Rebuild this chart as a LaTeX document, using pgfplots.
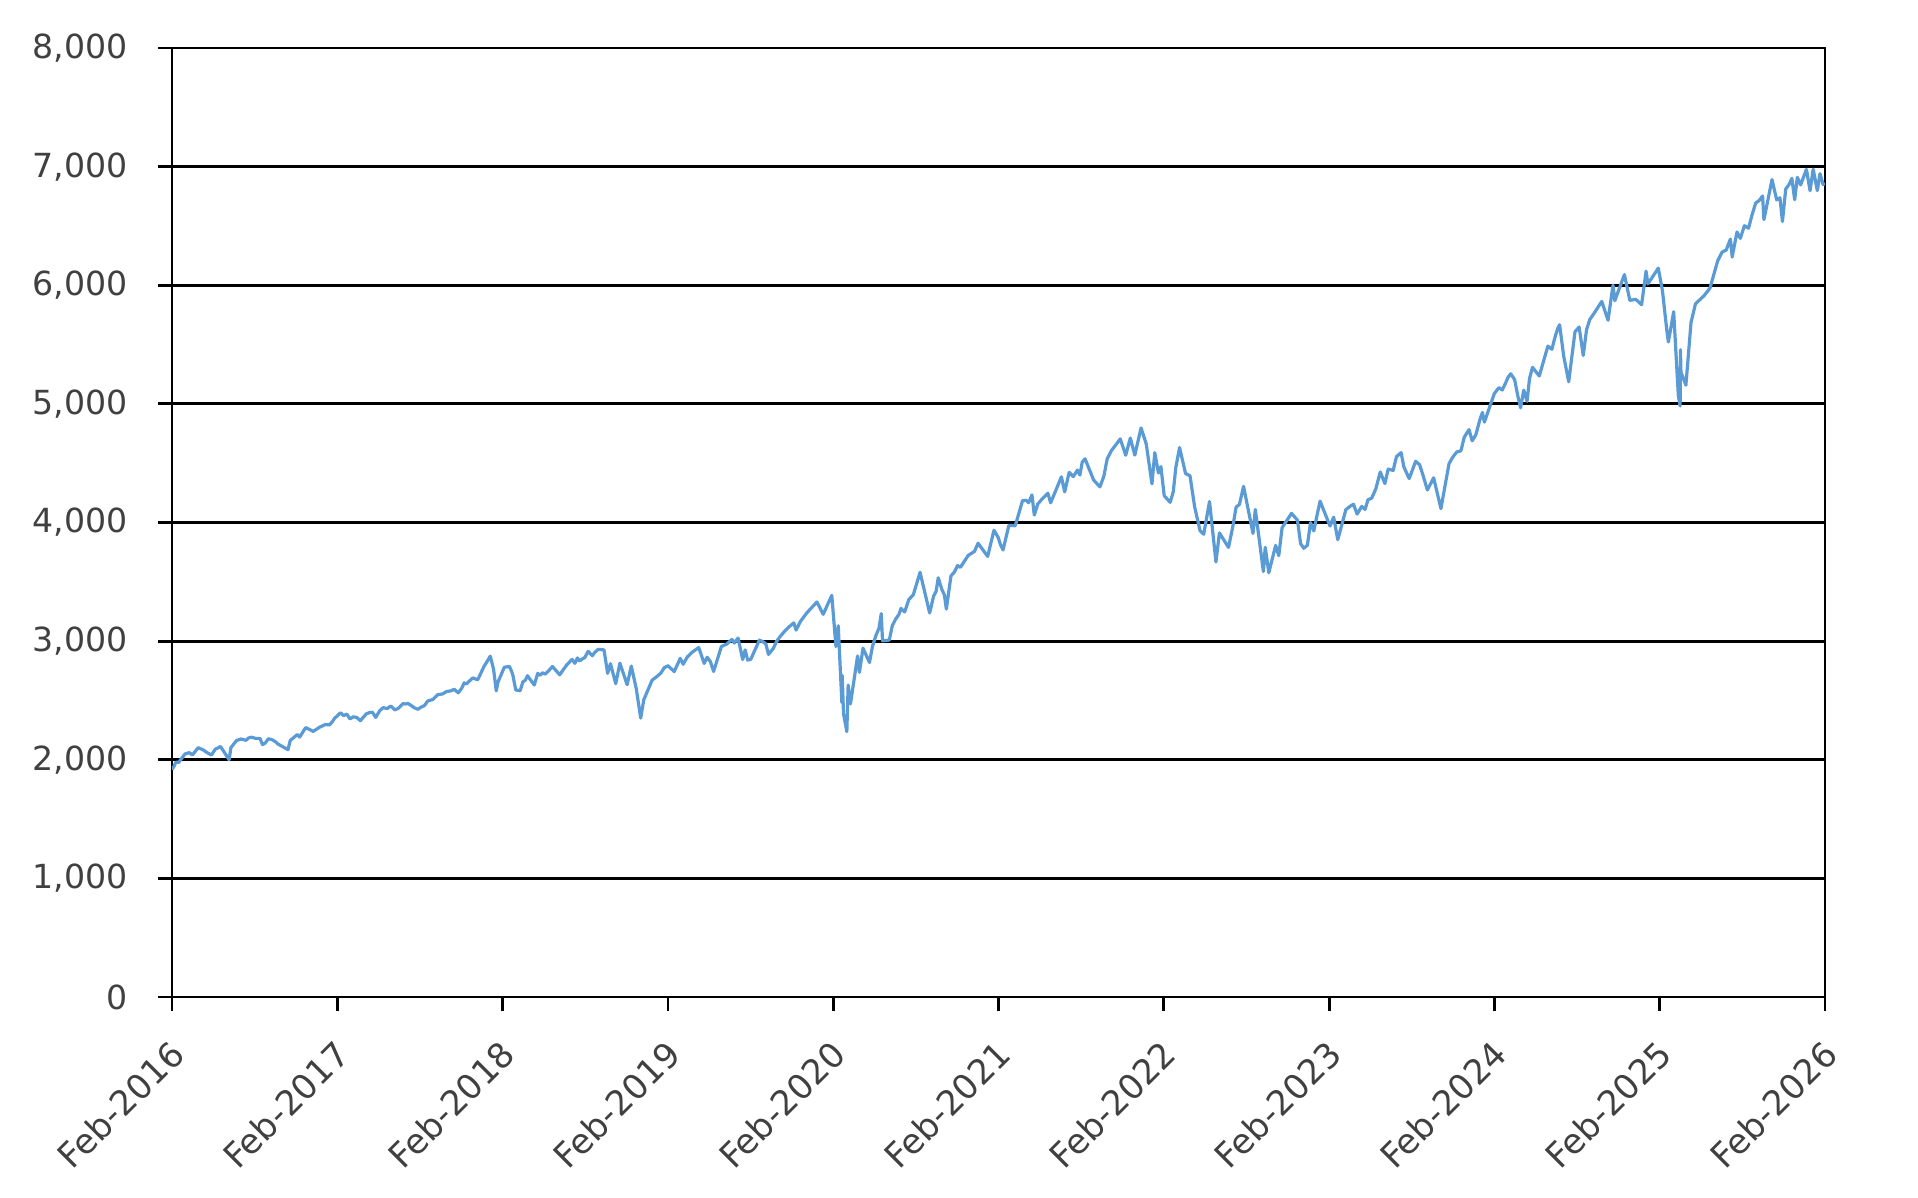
\documentclass[border=0pt]{standalone}
\usepackage{pgfplots}
\pgfplotsset{compat=1.18}
\usepackage{fontspec}
\setmainfont{DejaVu Sans}
\definecolor{linebl}{RGB}{91,155,213}
\definecolor{lblgray}{RGB}{64,64,64}
\begin{document}
\begin{tikzpicture}
\useasboundingbox (-43pt,-50.25pt) rectangle (436.5pt,249.25pt);
\begin{axis}[
  at={(0,0)}, anchor=south west,
  scale only axis, width=413.25pt, height=237.25pt,
  xmin=2016.1425, xmax=2026.1425,
  ymin=0, ymax=8000,
  xtick={2016.1425,2017.1425,2018.1425,2019.1425,2020.1425,2021.1425,2022.1425,2023.1425,2024.1425,2025.1425,2026.1425},
  xticklabels={Feb-2016,Feb-2017,Feb-2018,Feb-2019,Feb-2020,Feb-2021,Feb-2022,Feb-2023,Feb-2024,Feb-2025,Feb-2026},
  ytick={0,1000,...,8000},
  xtick pos=bottom, ytick pos=left,
  tick align=outside, major tick length=3.5pt,
  ymajorgrids, grid style={black, line width=0.7pt},
  axis line style={black, line width=0.7pt},
  tick style={black, line width=0.7pt},
  /pgf/number format/assume math mode=true,
  /pgf/number format/1000 sep={,},
  scaled y ticks=false,
  ticklabel style={text=lblgray},
  yticklabel style={font=\fontsize{8.3}{10}\selectfont, xshift=-4pt},
  xticklabel style={font=\fontsize{8.6}{10}\selectfont, rotate=45, anchor=east, xshift=-2pt, yshift=-7.5pt},
]
\addplot[linebl, line width=0.8pt, line join=round] coordinates {
(2016.142,1917)(2016.156,1948)(2016.165,1978)(2016.184,1979)(2016.203,2016)(2016.222,2049)(2016.247,2060)(2016.266,2041)(2016.301,2102)(2016.334,2081)(2016.350,2064)(2016.381,2040)(2016.405,2090)(2016.420,2099)(2016.436,2112)(2016.455,2071)(2016.488,2000)(2016.499,2103)(2016.534,2163)(2016.560,2175)(2016.590,2164)(2016.605,2183)(2016.622,2190)(2016.650,2180)(2016.675,2180)(2016.690,2128)(2016.705,2139)(2016.726,2177)(2016.750,2168)(2016.770,2150)(2016.784,2132)(2016.844,2085)(2016.858,2163)(2016.901,2213)(2016.915,2191)(2016.951,2271)(2016.997,2239)
(2017.036,2275)(2017.071,2297)(2017.095,2294)(2017.110,2316)(2017.126,2349)(2017.162,2396)(2017.180,2372)(2017.200,2385)(2017.219,2344)(2017.240,2362)(2017.260,2357)(2017.282,2329)(2017.318,2387)(2017.340,2399)(2017.355,2400)(2017.375,2357)(2017.400,2415)(2017.420,2439)(2017.445,2432)(2017.466,2453)(2017.490,2420)(2017.510,2432)(2017.540,2473)(2017.555,2470)(2017.570,2475)(2017.609,2438)(2017.630,2425)(2017.650,2444)(2017.670,2457)(2017.690,2496)(2017.721,2508)(2017.750,2549)(2017.780,2555)(2017.803,2575)(2017.830,2581)(2017.850,2594)(2017.874,2564)(2017.895,2602)(2017.910,2648)(2017.923,2639)(2017.962,2690)(2017.992,2674)
(2018.030,2786)(2018.068,2873)(2018.088,2762)(2018.104,2581)(2018.115,2656)(2018.153,2780)(2018.184,2786)(2018.195,2752)(2018.205,2711)(2018.222,2588)(2018.249,2582)(2018.265,2656)(2018.280,2670)(2018.293,2708)(2018.334,2630)(2018.355,2728)(2018.370,2712)(2018.384,2733)(2018.400,2722)(2018.420,2749)(2018.444,2786)(2018.488,2716)(2018.510,2760)(2018.530,2798)(2018.562,2846)(2018.580,2813)(2018.595,2858)(2018.608,2833)(2018.625,2850)(2018.640,2862)(2018.660,2914)(2018.685,2877)(2018.700,2905)(2018.721,2931)(2018.756,2926)(2018.778,2728)(2018.795,2810)(2018.827,2641)(2018.852,2814)(2018.896,2633)(2018.921,2790)(2018.951,2600)(2018.978,2351)(2018.997,2507)
(2019.047,2671)(2019.080,2706)(2019.100,2731)(2019.120,2775)(2019.143,2793)(2019.181,2743)(2019.217,2855)(2019.235,2805)(2019.260,2867)(2019.290,2907)(2019.310,2927)(2019.329,2946)(2019.362,2812)(2019.380,2864)(2019.400,2826)(2019.419,2744)(2019.466,2954)(2019.500,2977)(2019.530,3014)(2019.545,2984)(2019.567,3026)(2019.595,2845)(2019.610,2926)(2019.625,2840)(2019.644,2847)(2019.696,3009)(2019.720,2992)(2019.735,2977)(2019.751,2888)(2019.780,2938)(2019.800,2997)(2019.822,3040)(2019.850,3085)(2019.875,3120)(2019.904,3154)(2019.918,3093)(2019.945,3168)(2019.965,3205)(2019.984,3240)
(2020.044,3330)(2020.082,3226)(2020.134,3386)(2020.159,2954)(2020.173,3130)(2020.195,2481)(2020.197,2711)(2020.205,2386)(2020.225,2237)(2020.233,2630)(2020.247,2470)(2020.290,2875)(2020.301,2737)(2020.323,2940)(2020.362,2820)(2020.380,2955)(2020.400,3044)(2020.420,3112)(2020.433,3232)(2020.441,3002)(2020.482,3009)(2020.500,3130)(2020.520,3185)(2020.540,3225)(2020.553,3276)(2020.575,3246)(2020.600,3351)(2020.627,3390)(2020.668,3580)(2020.726,3237)(2020.750,3380)(2020.765,3419)(2020.778,3534)(2020.800,3435)(2020.815,3390)(2020.827,3270)(2020.855,3550)(2020.875,3581)(2020.895,3637)(2020.912,3622)(2020.959,3722)(2020.997,3756)
(2021.019,3825)(2021.077,3714)(2021.115,3934)(2021.140,3876)(2021.155,3811)(2021.170,3768)(2021.205,3975)(2021.244,3973)(2021.288,4185)(2021.310,4187)(2021.325,4167)(2021.345,4233)(2021.359,4063)(2021.380,4156)(2021.410,4204)(2021.441,4247)(2021.458,4166)(2021.523,4385)(2021.543,4258)(2021.570,4423)(2021.595,4387)(2021.620,4442)(2021.635,4400)(2021.649,4509)(2021.666,4537)(2021.718,4358)(2021.756,4300)(2021.780,4391)(2021.800,4536)(2021.825,4605)(2021.879,4705)(2021.912,4567)(2021.940,4712)(2021.967,4568)
(2022.005,4797)(2022.036,4663)(2022.071,4326)(2022.088,4589)(2022.110,4418)(2022.125,4471)(2022.145,4226)(2022.181,4170)(2022.200,4260)(2022.215,4463)(2022.238,4632)(2022.274,4413)(2022.301,4394)(2022.329,4132)(2022.362,3930)(2022.384,3901)(2022.419,4177)(2022.458,3667)(2022.479,3912)(2022.534,3790)(2022.560,3966)(2022.580,4130)(2022.600,4152)(2022.625,4305)(2022.682,3908)(2022.696,4110)(2022.745,3586)(2022.756,3791)(2022.778,3577)(2022.819,3807)(2022.838,3720)(2022.858,3956)(2022.915,4077)(2022.951,4020)(2022.970,3822)(2022.989,3783)
(2023.011,3808)(2023.030,3999)(2023.050,3929)(2023.071,4071)(2023.088,4180)(2023.148,3970)(2023.170,4045)(2023.195,3855)(2023.244,4109)(2023.270,4137)(2023.290,4154)(2023.312,4071)(2023.340,4136)(2023.360,4110)(2023.378,4192)(2023.400,4205)(2023.425,4283)(2023.452,4426)(2023.480,4328)(2023.500,4450)(2023.530,4439)(2023.550,4555)(2023.578,4589)(2023.595,4468)(2023.627,4370)(2023.666,4516)(2023.690,4487)(2023.710,4401)(2023.737,4274)(2023.775,4377)(2023.819,4117)(2023.868,4496)(2023.890,4550)(2023.915,4595)(2023.940,4604)(2023.960,4719)(2023.989,4783)
(2024.008,4688)(2024.030,4739)(2024.055,4868)(2024.070,4928)(2024.082,4846)(2024.142,5087)(2024.170,5137)(2024.190,5117)(2024.210,5175)(2024.225,5224)(2024.241,5254)(2024.265,5204)(2024.285,5061)(2024.301,4967)(2024.320,5116)(2024.340,5022)(2024.355,5214)(2024.373,5308)(2024.414,5235)(2024.466,5487)(2024.490,5460)(2024.510,5567)(2024.525,5633)(2024.537,5667)(2024.562,5400)(2024.592,5186)(2024.630,5608)(2024.655,5648)(2024.680,5408)(2024.700,5626)(2024.720,5713)(2024.745,5762)(2024.792,5864)(2024.830,5705)(2024.860,6001)(2024.871,5870)(2024.929,6090)(2024.962,5872)(2024.997,5882)
(2025.033,5836)(2025.060,6119)(2025.071,6012)(2025.134,6144)(2025.159,5955)(2025.186,5615)(2025.195,5522)(2025.227,5777)(2025.255,5074)(2025.266,4982)(2025.268,5457)(2025.271,5268)(2025.301,5158)(2025.332,5687)(2025.359,5844)(2025.411,5912)(2025.447,5977)(2025.493,6205)(2025.520,6280)(2025.545,6297)(2025.570,6389)(2025.581,6238)(2025.610,6449)(2025.630,6395)(2025.655,6502)(2025.680,6481)(2025.700,6587)(2025.723,6693)(2025.745,6715)(2025.765,6753)(2025.773,6553)(2025.822,6891)(2025.850,6720)(2025.870,6737)(2025.885,6538)(2025.905,6812)(2025.925,6849)(2025.942,6901)(2025.959,6721)(2025.975,6910)(2025.995,6846)
(2026.010,6902)(2026.030,6977)(2026.052,6797)(2026.071,6978)(2026.096,6798)(2026.112,6941)(2026.131,6850)(2026.142,6860)
};
\end{axis}
\end{tikzpicture}
\end{document}
